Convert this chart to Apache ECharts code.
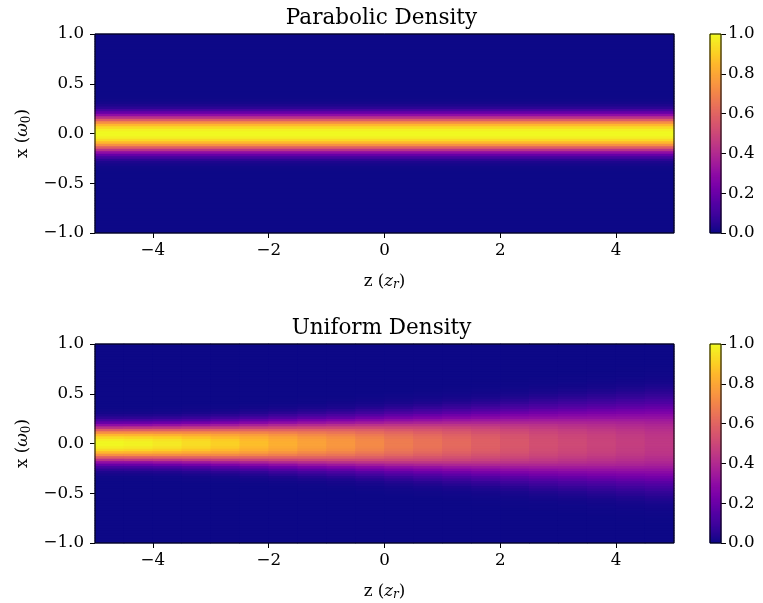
<!DOCTYPE html>
<html>
<head>
<meta charset="utf-8">
<script src="https://cdn.jsdelivr.net/npm/echarts@6/dist/echarts.min.js"></script>
<style>
  html, body { margin: 0; padding: 0; background: #fff; }
  #chart { width: 763px; height: 603px; }
</style>
</head>
<body>
<div id="chart"></div>
<script>
// column centres along z (z_r), one cell per 0.5
const zCenters = [-4.75, -4.25, -3.75, -3.25, -2.75, -2.25, -1.75, -1.25, -0.75, -0.25,
                  0.25, 0.75, 1.25, 1.75, 2.25, 2.75, 3.25, 3.75, 4.25, 4.75];
const zTicks = [-4, -2, 0, 2, 4];

// parabolic density: same profile at every z, read from x = 0.0125 outwards in 0.025 steps
const parabolicHalf = [1.0, 0.98, 0.93, 0.85, 0.73, 0.58, 0.43, 0.30, 0.19, 0.11,
                       0.055, 0.027, 0.013, 0.005, 0.001];

// uniform density: one half profile per z column, same x steps as above
const uniformHalf = [
  [0.995, 0.975, 0.93, 0.85, 0.73, 0.58, 0.43, 0.30, 0.19, 0.11, 0.056, 0.028, 0.013, 0.006, 0.0015],
  [0.985, 0.966, 0.92, 0.84, 0.73, 0.585, 0.44, 0.30, 0.194, 0.113, 0.059, 0.029, 0.014, 0.006, 0.002],
  [0.965, 0.947, 0.904, 0.831, 0.727, 0.59, 0.447, 0.316, 0.206, 0.122, 0.066, 0.033, 0.016, 0.007, 0.003],
  [0.936, 0.919, 0.881, 0.815, 0.722, 0.596, 0.46, 0.333, 0.222, 0.138, 0.078, 0.041, 0.021, 0.010, 0.0046, 0.0012],
  [0.906, 0.891, 0.857, 0.798, 0.716, 0.60, 0.471, 0.35, 0.244, 0.158, 0.095, 0.052, 0.027, 0.014, 0.006, 0.0025],
  [0.866, 0.853, 0.826, 0.775, 0.703, 0.60, 0.485, 0.373, 0.271, 0.183, 0.114, 0.065, 0.036, 0.020, 0.010, 0.005, 0.0017],
  [0.827, 0.816, 0.793, 0.748, 0.685, 0.598, 0.497, 0.392, 0.293, 0.207, 0.139, 0.087, 0.050, 0.027, 0.015, 0.008, 0.0037, 0.0012],
  [0.787, 0.778, 0.759, 0.719, 0.665, 0.594, 0.505, 0.408, 0.317, 0.235, 0.164, 0.106, 0.066, 0.039, 0.022, 0.012, 0.006, 0.003, 0.001],
  [0.757, 0.749, 0.732, 0.697, 0.65, 0.589, 0.508, 0.419, 0.333, 0.253, 0.18, 0.125, 0.082, 0.049, 0.028, 0.017, 0.0096, 0.005, 0.002],
  [0.717, 0.711, 0.696, 0.667, 0.628, 0.579, 0.508, 0.431, 0.351, 0.276, 0.209, 0.150, 0.101, 0.067, 0.042, 0.024, 0.015, 0.0086, 0.0046, 0.0021, 0.0005],
  [0.678, 0.673, 0.659, 0.636, 0.605, 0.561, 0.504, 0.438, 0.367, 0.298, 0.233, 0.175, 0.128, 0.087, 0.057, 0.037, 0.022, 0.0135, 0.0083, 0.0046, 0.0022, 0.0008],
  [0.648, 0.644, 0.631, 0.612, 0.585, 0.546, 0.50, 0.44, 0.376, 0.312, 0.25, 0.195, 0.145, 0.105, 0.073, 0.047, 0.031, 0.019, 0.0116, 0.0073, 0.0044, 0.002, 0.0007],
  [0.618, 0.614, 0.604, 0.588, 0.563, 0.531, 0.494, 0.44, 0.383, 0.324, 0.267, 0.213, 0.165, 0.124, 0.087, 0.062, 0.041, 0.026, 0.017, 0.011, 0.0068, 0.004, 0.002, 0.0008],
  [0.588, 0.585, 0.576, 0.564, 0.541, 0.514, 0.481, 0.437, 0.388, 0.334, 0.281, 0.231, 0.185, 0.141, 0.108, 0.077, 0.054, 0.037, 0.024, 0.016, 0.010, 0.0066, 0.0039, 0.0022, 0.0009],
  [0.558, 0.555, 0.548, 0.538, 0.519, 0.497, 0.467, 0.432, 0.388, 0.342, 0.293, 0.247, 0.202, 0.162, 0.125, 0.095, 0.070, 0.049, 0.034, 0.022, 0.016, 0.0099, 0.0067, 0.004, 0.0026, 0.0012],
  [0.529, 0.526, 0.52, 0.511, 0.496, 0.477, 0.452, 0.425, 0.387, 0.347, 0.303, 0.26, 0.22, 0.181, 0.145, 0.114, 0.087, 0.065, 0.046, 0.033, 0.022, 0.016, 0.010, 0.0072, 0.0043, 0.0029, 0.0015, 0.0007],
  [0.509, 0.506, 0.501, 0.493, 0.48, 0.463, 0.441, 0.416, 0.384, 0.348, 0.309, 0.268, 0.23, 0.192, 0.158, 0.126, 0.10, 0.075, 0.057, 0.040, 0.029, 0.020, 0.014, 0.0093, 0.0066, 0.0041, 0.0028, 0.0015, 0.0007],
  [0.489, 0.486, 0.482, 0.475, 0.464, 0.448, 0.43, 0.407, 0.381, 0.347, 0.312, 0.275, 0.239, 0.204, 0.17, 0.14, 0.111, 0.088, 0.067, 0.051, 0.036, 0.027, 0.018, 0.013, 0.0088, 0.0064, 0.004, 0.0027, 0.0016, 0.0008],
  [0.469, 0.467, 0.463, 0.456, 0.448, 0.433, 0.418, 0.397, 0.376, 0.345, 0.314, 0.281, 0.246, 0.214, 0.182, 0.152, 0.125, 0.10, 0.079, 0.061, 0.046, 0.033, 0.025, 0.017, 0.0128, 0.0086, 0.0063, 0.0041, 0.0028, 0.0017, 0.0009],
  [0.449, 0.447, 0.444, 0.438, 0.431, 0.418, 0.405, 0.387, 0.367, 0.343, 0.314, 0.285, 0.253, 0.222, 0.193, 0.164, 0.138, 0.113, 0.092, 0.072, 0.056, 0.043, 0.032, 0.024, 0.016, 0.0126, 0.0087, 0.0064, 0.0044, 0.003, 0.002, 0.0011, 0.0005]
];

// matplotlib "plasma"
const plasma = ['#0d0887', '#2a0593', '#41049d', '#5402a3', '#6a00a8', '#7e03a8', '#8f0da4',
                '#a11b9b', '#b12a90', '#bf3984', '#cc4778', '#d6556d', '#e16462', '#ea7457',
                '#f2844b', '#f89540', '#fca636', '#feb72d', '#fcce25', '#f7e225', '#f0f921'];

const FONT = 'DejaVu Serif';
const minus = s => String(s).replace('-', '\u2212');

// rows along x, bottom to top (category axes of the heatmaps)
const xRows = [];
for (let i = 0; i < 80; i++) xRows.push((-1 + 0.025 * (i + 0.5)).toFixed(4));

// mirror a half profile onto the full row list
function fullColumn(half, n) {
  const col = [];
  for (let i = 0; i < n; i++) {
    const k = i >= n / 2 ? i - n / 2 : n / 2 - 1 - i;
    col.push(half[k] !== undefined ? half[k] : 0);
  }
  return col;
}

// parabolic case does not change with z: one column across the whole plot
const topData = fullColumn(parabolicHalf, xRows.length).map((v, ri) => [0, ri, v]);
const botData = [];
zCenters.forEach((z, zi) => {
  fullColumn(uniformHalf[zi], xRows.length).forEach((v, ri) => botData.push([zi, ri, v]));
});

// colour bar cells
const cbarLevels = [];
for (let i = 0; i < 200; i++) cbarLevels.push(((i + 0.5) / 200).toFixed(4));
const cbarData = cbarLevels.map((v, i) => [0, i, +v]);

const textBase = { fontFamily: FONT, fontSize: 16.7, color: '#000' };
const frame = { show: true, borderColor: '#000', borderWidth: 1, backgroundColor: 'rgba(0,0,0,0)', z: 5 };
// dark fill under the heatmaps so cell seams do not show white
const under = { show: true, borderWidth: 0, backgroundColor: '#0d0887', z: 0 };

const boxes = [
  { left: 95, top: 34, width: 579, height: 199 },
  { left: 95, top: 344, width: 579, height: 199 },
  { left: 710, top: 34, width: 11, height: 199 },
  { left: 710, top: 344, width: 11, height: 199 }
];
const grids = boxes.map(b => Object.assign({}, b, frame))
  .concat([Object.assign({}, boxes[0], under), Object.assign({}, boxes[1], under)]);

const nameRich = {
  r: { fontFamily: FONT, fontSize: 16.7, color: '#000' },
  it: { fontFamily: FONT, fontSize: 16.7, fontStyle: 'italic', color: '#000' },
  sub: { fontFamily: FONT, fontSize: 12, fontStyle: 'italic', color: '#000', padding: [7, 0, 0, 0] },
  subr: { fontFamily: FONT, fontSize: 12, color: '#000', padding: [7, 0, 0, 0] }
};

function cat(g, data) {
  return { type: 'category', gridIndex: g, data: data, show: false, boundaryGap: true };
}
function zAxis(g) {
  return {
    type: 'value', gridIndex: g, min: -5, max: 5, position: 'bottom',
    axisLine: { show: false },
    axisTick: { show: true, inside: false, length: 5, customValues: zTicks, lineStyle: { color: '#000' } },
    axisLabel: Object.assign({ customValues: zTicks, margin: 9, formatter: v => minus(v) }, textBase),
    splitLine: { show: false },
    name: '{r|z (}{it|z}{sub|r}{r|)}',
    nameLocation: 'middle', nameGap: 39,
    nameTextStyle: Object.assign({ rich: nameRich }, textBase)
  };
}
function xAxisVal(g) {
  return {
    type: 'value', gridIndex: g, min: -1, max: 1, interval: 0.5, position: 'left',
    axisLine: { show: false },
    axisTick: { show: true, inside: false, length: 5, lineStyle: { color: '#000' } },
    axisLabel: Object.assign({ margin: 11, formatter: v => minus(v.toFixed(1)) }, textBase),
    splitLine: { show: false },
    name: '{r|x (}{it|\u03c9}{subr|0}{r|)}',
    nameLocation: 'middle', nameGap: 58, nameRotate: 90,
    nameTextStyle: Object.assign({ rich: nameRich }, textBase)
  };
}
function cbarAxis(g) {
  return {
    type: 'value', gridIndex: g, min: 0, max: 1, interval: 0.2, position: 'right',
    axisLine: { show: false },
    axisTick: { show: true, inside: false, length: 5, lineStyle: { color: '#000' } },
    axisLabel: Object.assign({ margin: 7, formatter: v => v.toFixed(1) }, textBase),
    splitLine: { show: false }
  };
}

// each field is painted twice so the anti-aliased cell edges close up
const heat = (xi, yi, data) => ({
  type: 'heatmap', xAxisIndex: xi, yAxisIndex: yi, data: data,
  itemStyle: { borderWidth: 0 }, emphasis: { disabled: true }
});

const titleStyle = { fontFamily: FONT, fontSize: 21.5, fontWeight: 'normal', color: '#000' };

const option = {
  animation: false,
  backgroundColor: '#fff',
  title: [
    { text: 'Parabolic Density', left: 'center', top: 2, padding: [5, 0, 5, 6], textStyle: titleStyle },
    { text: 'Uniform Density', left: 'center', top: 312, padding: [5, 0, 5, 6], textStyle: titleStyle }
  ],
  grid: grids,
  xAxis: [
    cat(0, ['all']), zAxis(0),
    cat(1, zCenters), zAxis(1),
    cat(2, ['c']), cat(3, ['c'])
  ],
  yAxis: [
    cat(0, xRows), xAxisVal(0),
    cat(1, xRows), xAxisVal(1),
    cat(2, cbarLevels), cbarAxis(2),
    cat(3, cbarLevels), cbarAxis(3)
  ],
  visualMap: {
    show: false, type: 'continuous', min: 0, max: 1,
    seriesIndex: [0, 1, 2, 3, 4, 5, 6, 7],
    inRange: { color: plasma }
  },
  series: [
    heat(0, 0, topData), heat(0, 0, topData),
    heat(2, 2, botData), heat(2, 2, botData),
    heat(4, 4, cbarData), heat(4, 4, cbarData),
    heat(5, 6, cbarData), heat(5, 6, cbarData)
  ]
};

const chart = echarts.init(document.getElementById('chart'), null, { renderer: 'canvas' });
chart.setOption(option);
</script>
</body>
</html>
